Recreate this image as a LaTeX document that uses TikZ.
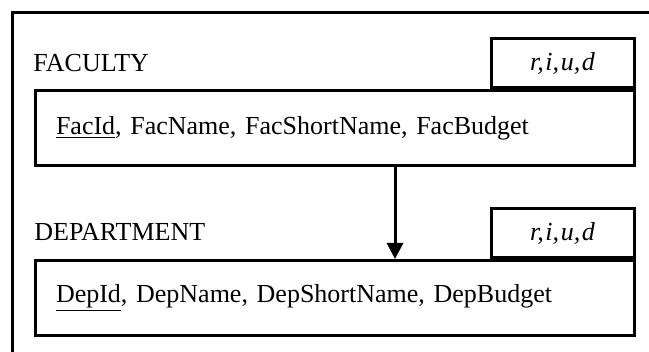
\documentclass[tikz,border=0pt]{standalone}
\usepackage{fontspec}
\setmainfont{Liberation Serif}
\usetikzlibrary{arrows.meta,positioning}

\newcommand{\relfont}{\fontsize{13}{15}\selectfont}
\newcommand{\ops}{r,\kern.8pt i,\kern.8pt u,\kern.8pt d}

\tikzset{
  relbox/.style={draw, line width=1.5pt, minimum height=37.5pt, text width=278.5pt,
    inner xsep=10.5pt, align=left},
  opsbox/.style={draw, line width=1.5pt, minimum width=71.5pt, minimum height=24.5pt,
    inner sep=0pt, font=\relfont\itshape},
  relname/.style={anchor=base west, inner sep=0pt}
}

\begin{document}
\begin{tikzpicture}[x=0.5pt, y=-0.5pt, font=\relfont]
\useasboundingbox (0,0) rectangle (649,352);
\clip (0,0) rectangle (649,352);

% outer frame, runs off to the right and bottom
\draw[line width=1.5pt] (12,13) rectangle (700,400);

\node[relbox] (fac) at (334.5,128) {\underline{FacId}, FacName, FacShortName, FacBudget};
\node[opsbox, anchor=south east] (facOps) at (fac.north east) {\ops};
\node[relname] (facName) at (33,72) {FACULTY};

\node[relbox] (dep) at (334.5,298) {\underline{DepId}, DepName, DepShortName, DepBudget};
\node[opsbox, anchor=south east] (depOps) at (dep.north east) {\ops};
\node[relname] (depName) at (34,241) {DEPARTMENT};

\draw[line width=1.5pt, -{Triangle[length=8pt,width=8pt]}]
  ([xshift=30.25pt]fac.south) -- ([xshift=30.25pt]dep.north);
\end{tikzpicture}
\end{document}
